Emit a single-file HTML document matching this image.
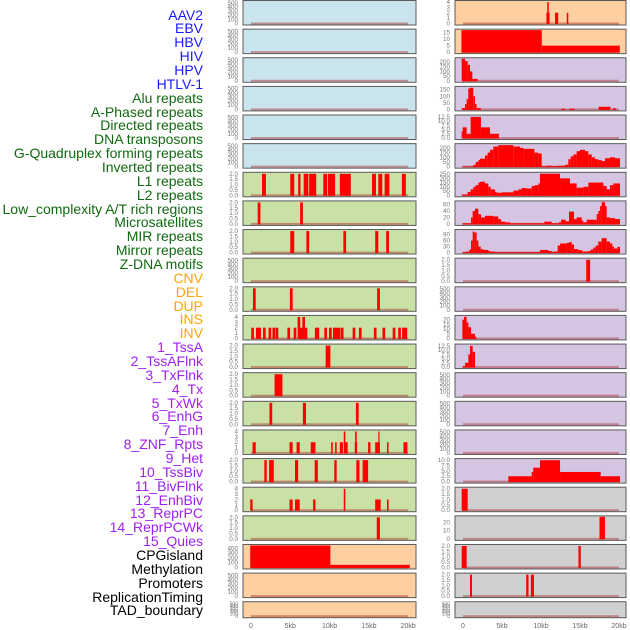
<!DOCTYPE html>
<html><head><meta charset="utf-8"><style>
body{margin:0;background:#fff;width:630px;height:630px;overflow:hidden;font-family:"Liberation Sans",sans-serif}
#labels div{position:absolute;right:427px;font-size:14px;line-height:14px;white-space:nowrap}
svg{position:absolute;left:0;top:0}
</style></head><body>
<div id="labels"></div>
<svg id="chart" width="630" height="630"></svg>
<script>
const labelNames=["AAV2","EBV","HBV","HIV","HPV","HTLV-1","Alu repeats","A-Phased repeats","Directed repeats","DNA transposons","G-Quadruplex forming repeats","Inverted repeats","L1 repeats","L2 repeats","Low_complexity A/T rich regions","Microsatellites","MIR repeats","Mirror repeats","Z-DNA motifs","CNV","DEL","DUP","INS","INV","1_TssA","2_TssAFlnk","3_TxFlnk","4_Tx","5_TxWk","6_EnhG","7_Enh","8_ZNF_Rpts","9_Het","10_TssBiv","11_BivFlnk","12_EnhBiv","13_ReprPC","14_ReprPCWk","15_Quies","CPGisland","Methylation","Promoters","ReplicationTiming","TAD_boundary"];
const labelGroups=[6,13,5,15,5];
const groupColors=["#1a1aff","#106a10","#ffa500","#a020f0","#000"];
const xTickVals=[0,5,10,15,20];
const xTickLabels=["0","5kb","10kb","15kb","20kb"];
const tk2=["0.0","0.5","1.0","1.5","2.0"], tk2v=[0,0.5,1,1.5,2];
const tk4=["0","1","2","3","4"], tk4v=[0,1,2,3,4];
const tkE=["0","100","200","300","400","500"], tkEv=[0,100,200,300,400,500];
// Left column spike data (kb start, kb end, value)
const L6s=[1.4,5.0,6.0,6.7,7.4,9.2,9.8,11.3,15.4,16.2,17.0,19.2], L6e=[1.9,5.5,6.3,7.3,8.3,9.7,10.7,12.7,15.9,16.7,17.6,19.7], L6v=[2,2,2,2,2,2,2,2,2,2,2,2];
const L7s=[0.85,6.25], L7e=[1.2,6.6], L7v=[2,2];
const L8s=[5.0,7.05,11.75,15.8,17.2], L8e=[5.5,7.4,12.1,16.2,17.55], L8v=[2,2,2,2,2];
const L10s=[0.25,4.95,16.05], L10e=[0.6,5.3,16.4], L10v=[2,2,2];
const L11c=[0.2,0.8,1.1,1.7,2.4,2.9,3.3,4.8,5.6,6.1,6.4,6.7,7.0,8.3,8.5,9.5,10.1,10.6,10.9,11.2,11.6,13.1,13.9,15.8,16.9,18.2,18.9,19.4,19.7];
const L11v=[2,2,2,2,2,2,2,2,2,4,2,4,2,2,2,2,2,2,2,2,2,2,2,2,2,2,2,2,2];
const L12s=[9.5], L12e=[10.1], L12v=[2];
const L13s=[3.0], L13e=[4.0], L13v=[2];
const L14s=[2.35,6.6,13.35], L14e=[2.7,7.0,13.7], L14v=[2,2,2];
const L15s=[0.2,4.9,5.8,7.6,10.2,10.7,11.3,11.9,11.8,13.2,13.25,14.9,15.8,16.2,17.3,19.4], L15e=[0.6,5.3,6.2,8.2,10.4,10.9,11.7,12.3,12.0,13.5,13.45,15.2,16.4,16.35,17.5,19.9], L15v=[2,2,2,2,2,2,2,2,4,2,4,2,2,4,2,2];
const L16s=[1.7,2.3,5.6,8.1,10.6,13.4,14.2], L16e=[2.0,2.9,6.0,8.5,10.9,13.8,14.9], L16v=[2,2,2,2,2,2,2];
const L17s=[-0.1,4.9,5.6,7.9,11.8,15.8,17.3], L17e=[0.2,5.3,6.2,8.2,12.0,16.5,17.5], L17v=[2,2,2,2,4,2,2];
const L18s=[16.0], L18e=[16.4], L18v=[2];
const L19s=[-0.1,10.1], L19e=[10.1,20.2], L19v=[460,55];
// Right column
const R0s=[10.7,10.8,11.8,13.3], R0e=[11.1,11.0,12.2,13.5], R0v=[2,4,2,2];
const R1s=[-0.2,10.1], R1e=[10.1,20.1], R1v=[17,5];
const R2edges=[-0.17,0.26,0.6,0.9,1.2,1.88], R2vals=[235,210,170,100,20];
const R3edges=[-0.17,0.26,0.47,0.68,0.9,1.32,1.54,1.75,2.3,12.6,13.1,13.6,14.3,17.4,18.9,19.2,19.6], R3vals=[10,40,80,160,165,100,40,10,0,5,0,5,0,20,0,8];
const R4edges=[-0.17,-0.04,0.47,0.98,2.3,3.46,4.6], R4vals=[4,6.3,2.5,12.5,6.3,2.5];
const R5edges=[-0.17,1.33,1.63,1.97,2.18,2.82,3.16,3.46,3.89,4.53,6.45,7.31,7.74,9.15,9.66,10.09,10.73,11.37,12.22,13.08,13.51,13.81,14.15,14.57,15.0,15.64,16.07,16.5,16.92,17.35,17.78,18.21,18.85,19.49,20.13];
const R5vals=[2,20,50,70,85,120,150,180,215,230,215,200,190,150,140,5,10,5,10,20,80,110,130,165,180,165,130,100,80,70,60,90,100,90];
const R6edges=[-0.17,0.6,0.98,1.33,1.63,1.97,2.18,2.82,3.25,3.55,4.1,4.32,4.96,6.45,7.1,7.52,8.16,8.81,9.23,9.66,9.87,12.44,13.72,14.57,15.43,16.07,18.0,18.42,18.85,19.28,20.13];
const R6vals=[10,40,70,100,120,150,160,140,100,70,40,30,35,55,70,85,80,110,120,140,255,200,140,90,100,150,110,70,120,140];
const R7edges=[-0.08,1.03,1.24,1.54,1.97,2.31,2.82,3.89,4.53,4.87,5.39,6.03,10.43,11.37,12.31,12.57,13.16,13.59,14.23,14.57,15.22,15.43,15.86,17.14,17.35,17.57,17.78,18.21,18.42,18.85,19.49,20.13];
const R7vals=[2,20,40,47,30,20,25,23,15,7,5,2,7,2,5,13,8,38,15,20,10,5,13,30,40,55,67,55,20,18,15];
const R8edges=[-0.08,0.47,0.81,1.03,1.24,1.45,1.75,1.97,2.27,2.61,3.25,3.46,4.1,9.87,10.94,11.37,11.58,12.14,12.44,13.29,13.59,13.93,14.23,14.79,15.3,16.07,16.37,16.71,17.01,17.35,17.78,18.42,18.85,19.15,19.36,19.79,20.13];
const R8vals=[2,5,15,60,105,100,60,30,17,13,8,5,2,13,8,2,5,35,45,48,52,40,17,12,5,8,15,25,35,55,72,55,45,30,20,28];
const R9s=[15.8], R9e=[16.3], R9v=[2];
const R11edges=[-0.08,0.13,0.47,0.69,1.03,1.54,1.67], R11vals=[20,23,17,12,5,2];
const R12edges=[-0.08,0.26,0.69,0.9,1.24,1.54], R12vals=[0.5,2.5,7.5,12.5,9];
const R16edges=[5.81,8.8,9.0,9.87,12.44,17.65,20.13], R16vals=[2.5,4.5,6.5,10,4.5,2.5];
const R17s=[-0.17], R17e=[0.6], R17v=[2];
const R18s=[17.5], R18e=[18.2], R18v=[27];
const R19s=[-0.17,14.8], R19e=[0.47,15.1], R19v=[2,2];
const R20s=[0.9,8.1,8.7], R20e=[1.15,8.4,9.1], R20v=[2,2,2];

// labels
const lab=document.getElementById('labels');
let gi=0,cnt=0;
labelNames.forEach((n,i)=>{
  while(cnt>=labelGroups[gi]){cnt-=labelGroups[gi];gi++;}
  cnt++;
  const d=document.createElement('div');
  
  
  d.textContent=n; d.style.color=groupColors[gi];
  d.style.top=(15+i*13.86-7.5)+'px';
  lab.appendChild(d);
});

const NS='http://www.w3.org/2000/svg', svg=document.getElementById('chart');
function el(t,a,p){const e=document.createElementNS(NS,t);for(const k in a)e.setAttribute(k,a[k]);(p||svg).appendChild(e);return e;}
function hist(edges,vals){return {s:edges.slice(0,-1),e:edges.slice(1),v:vals};}
const BLUE='#c9e4ec',GREEN='#c9e1a5',ORANGE='#fecfa0',PURPLE='#d5c5e2',GREY='#d0d0d0';
const cols=[{x0:243,x1:416,zx:251,k:7.86,tx:238},{x0:455,x1:626,zx:463,k:7.8,tx:450}];
function mk(bg,ymax,tl,tv,data){return {bg,ymax,tl,tv,data};}
const sp=(s,e,v)=>({s,e,v});
const L11=sp(L11c.map(c=>c-0.17),L11c.map(c=>c+0.17),L11v);
const left=[
 mk(BLUE,530,tkE,tkEv,null),mk(BLUE,530,tkE,tkEv,null),mk(BLUE,530,tkE,tkEv,null),mk(BLUE,530,tkE,tkEv,null),mk(BLUE,530,tkE,tkEv,null),mk(BLUE,530,tkE,tkEv,null),
 mk(GREEN,2.05,tk2,tk2v,sp(L6s,L6e,L6v)),mk(GREEN,2.05,tk2,tk2v,sp(L7s,L7e,L7v)),mk(GREEN,2.05,tk2,tk2v,sp(L8s,L8e,L8v)),mk(GREEN,530,tkE,tkEv,null),
 mk(GREEN,2.05,tk2,tk2v,sp(L10s,L10e,L10v)),mk(GREEN,4.1,tk4,tk4v,L11),mk(GREEN,2.05,tk2,tk2v,sp(L12s,L12e,L12v)),mk(GREEN,2.05,tk2,tk2v,sp(L13s,L13e,L13v)),
 mk(GREEN,2.05,tk2,tk2v,sp(L14s,L14e,L14v)),mk(GREEN,4.1,tk4,tk4v,sp(L15s,L15e,L15v)),mk(GREEN,2.05,tk2,tk2v,sp(L16s,L16e,L16v)),mk(GREEN,4.1,tk4,tk4v,sp(L17s,L17e,L17v)),
 mk(GREEN,2.05,tk2,tk2v,sp(L18s,L18e,L18v)),mk(ORANGE,460,["0","100","200","300","400"],[0,100,200,300,400],sp(L19s,L19e,L19v)),mk(ORANGE,530,tkE,tkEv,null),mk(ORANGE,530,tkE,tkEv,null)];
const right=[
 mk(ORANGE,4.1,tk4,tk4v,sp(R0s,R0e,R0v)),mk(ORANGE,17,["0","5","10","15"],[0,5,10,15],sp(R1s,R1e,R1v)),
 mk(PURPLE,235,["0","50","100","150","200"],[0,50,100,150,200],hist(R2edges,R2vals)),
 mk(PURPLE,168,["0","50","100","150"],[0,50,100,150],hist(R3edges,R3vals)),
 mk(PURPLE,13,["0.0","2.5","5.0","7.5","10.0","12.5"],[0,2.5,5,7.5,10,12.5],hist(R4edges,R4vals)),
 mk(PURPLE,235,["0","50","100","150","200"],[0,50,100,150,200],hist(R5edges,R5vals)),
 mk(PURPLE,260,["0","50","100","150","200","250"],[0,50,100,150,200,250],hist(R6edges,R6vals)),
 mk(PURPLE,68,["0","20","40","60"],[0,20,40,60],hist(R7edges,R7vals)),
 mk(PURPLE,110,["0","30","60","90"],[0,30,60,90],hist(R8edges,R8vals)),
 mk(PURPLE,2.05,tk2,tk2v,sp(R9s,R9e,R9v)),mk(PURPLE,530,tkE,tkEv,null),
 mk(PURPLE,23.5,["0","5","10","15","20"],[0,5,10,15,20],hist(R11edges,R11vals)),
 mk(PURPLE,13,["0.0","2.5","5.0","7.5","10.0","12.5"],[0,2.5,5,7.5,10,12.5],hist(R12edges,R12vals)),
 mk(PURPLE,530,tkE,tkEv,null),mk(PURPLE,530,tkE,tkEv,null),mk(PURPLE,530,tkE,tkEv,null),
 mk(PURPLE,10.3,["0.0","2.5","5.0","7.5","10.0"],[0,2.5,5,7.5,10],hist(R16edges,R16vals)),
 mk(GREY,2.05,tk2,tk2v,sp(R17s,R17e,R17v)),mk(GREY,27,["0","10","20"],[0,10,20],sp(R18s,R18e,R18v)),
 mk(GREY,2.05,tk2,tk2v,sp(R19s,R19e,R19v)),mk(GREY,2.05,tk2,tk2v,sp(R20s,R20e,R20v)),mk(GREY,530,tkE,tkEv,null)];

[left,right].forEach((list,ci)=>{
  const c=cols[ci];
  list.forEach((p,i)=>{
    const top=i*28.63+0.5, h=(i==21?16:24.5), bot=top+h;
    const g=el('g',{});
    
    
    el('rect',{x:c.x0,y:top,width:c.x1-c.x0,height:h,fill:p.bg},g);
    const X=kb=>c.zx+kb*c.k;
    const y0=bot-1.5, ph=h-2.5;
    const Y=v=>y0-v/p.ymax*ph;
    el('rect',{x:X(0),y:y0-1,width:X(20)-X(0),height:2,fill:'rgba(170,40,40,0.45)'},g);
    if(p.data){
      p.data.v.forEach((v,j)=>{
        if(v<=0)return;
        const r=el('rect',{x:X(p.data.s[j]),y:Y(v),width:Math.max(1.2,X(p.data.e[j])-X(p.data.s[j])),height:y0-Y(v)+0.5,fill:'#ff0000'},g);
        
        
      });
    }
    el('rect',{x:c.x0,y:top,width:c.x1-c.x0,height:h,fill:'none',stroke:'#5a5a5a','stroke-width':1},g);
    p.tl.forEach((t,j)=>{
      const tx=el('text',{x:c.tx,y:Y(p.tv[j])+2,'font-size':(h<20?5:6.3),fill:'#777','text-anchor':'end','font-family':'Liberation Sans, sans-serif'},g);
      tx.textContent=t;
    });
  });
  xTickVals.forEach((v,j)=>{
    const t=el('text',{x:c.zx+v*c.k,y:628,'font-size':7,fill:'#666','text-anchor':'middle','font-family':'Liberation Sans, sans-serif'});
    
    
    t.textContent=xTickLabels[j];
  });
});
</script>
</body></html>
